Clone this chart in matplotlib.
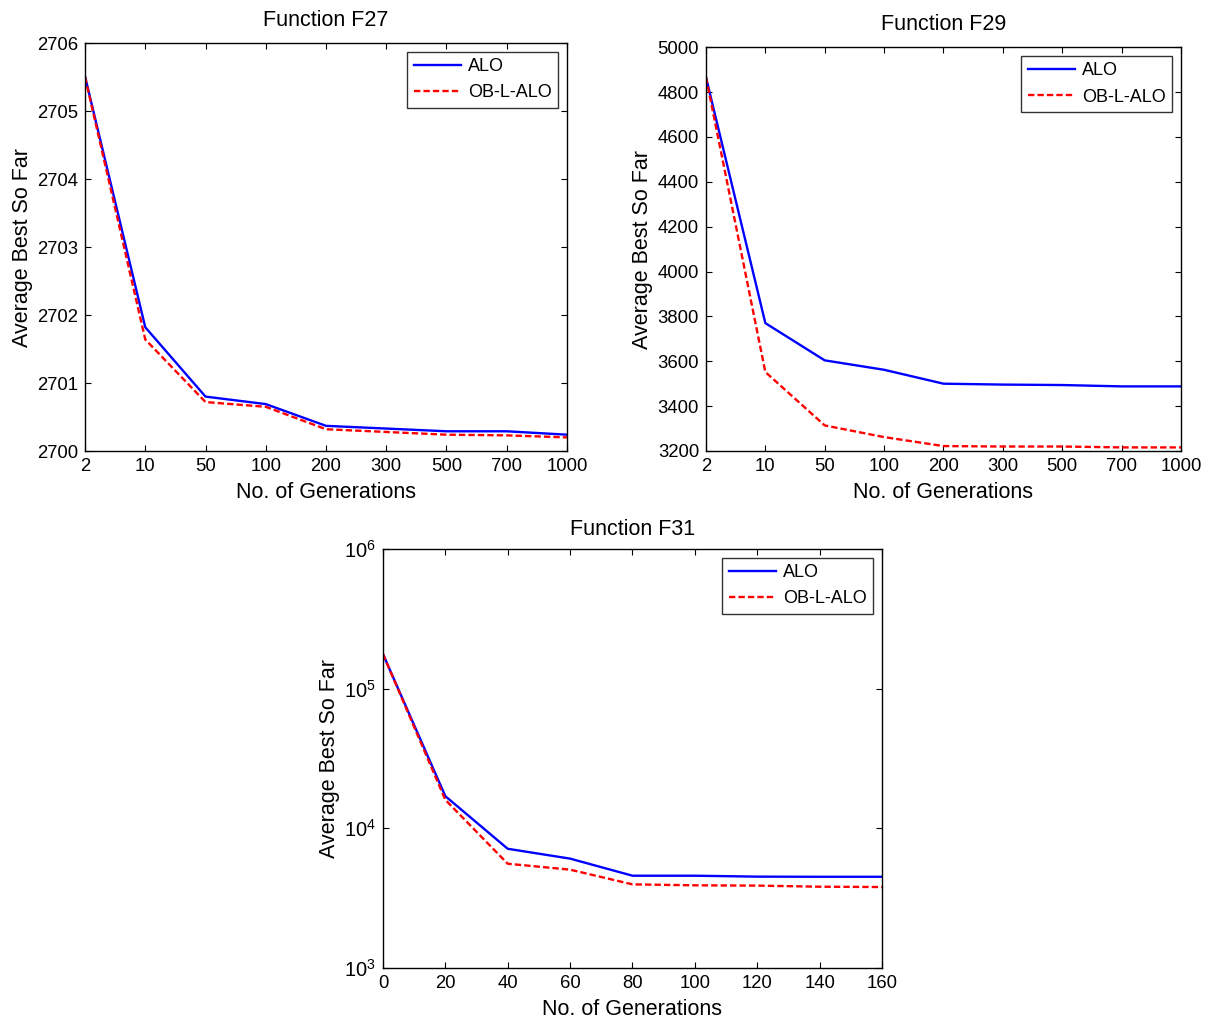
import numpy as np
import matplotlib
matplotlib.use("Agg")
import matplotlib.pyplot as plt
from matplotlib.ticker import LogLocator, NullLocator, LogFormatterSciNotation

plt.rcParams["font.family"] = ["Liberation Sans", "DejaVu Sans"]
plt.rcParams["mathtext.default"] = "regular"

# Generation checkpoints for the two top panels (equally spaced categories)
gens = ["2", "10", "50", "100", "200", "300", "500", "700", "1000"]

f27_alo = [2705.51, 2701.82, 2700.80, 2700.69, 2700.37, 2700.33, 2700.29, 2700.29, 2700.24]
f27_obl = [2705.50, 2701.64, 2700.72, 2700.65, 2700.32, 2700.28, 2700.24, 2700.23, 2700.20]

f29_alo = [4866, 3770, 3604, 3562, 3500, 3496, 3494, 3488, 3488]
f29_obl = [4866, 3552, 3314, 3262, 3222, 3220, 3220, 3216, 3216]

# F31 uses a numeric generation axis
f31_gen = [0, 20, 40, 60, 80, 100, 120, 140, 160]
f31_alo = [177000, 17000, 7140, 6070, 4580, 4580, 4510, 4500, 4500]
f31_obl = [177000, 16000, 5580, 5060, 3970, 3910, 3890, 3820, 3800]

BLUE = "#0000ff"
RED = "#ff0000"
LW = 1.7
DASH = (0, (2.7, 1.3))

fig = plt.figure(figsize=(12.13, 10.25), dpi=100)

def style(ax):
    ax.tick_params(direction="in", top=True, right=True, length=4, width=0.8,
                   labelsize=13.3, pad=5)
    for s in ax.spines.values():
        s.set_linewidth(1.0)
    ax.set_xlabel("No. of Generations", fontsize=15.5, labelpad=5)
    ax.set_ylabel("Average Best So Far", fontsize=15.5, labelpad=3)
    leg = ax.legend(loc="upper right", fontsize=13, frameon=True, fancybox=False,
                    edgecolor="black", handlelength=2.6, handletextpad=0.4,
                    borderpad=0.35, labelspacing=0.5, borderaxespad=0.5)
    leg.get_frame().set_linewidth(1.0)


# Function F27
ax1 = fig.add_axes([0.0701, 0.560, 0.3973, 0.398])
x = np.arange(len(gens))
ax1.plot(x, f27_alo, color=BLUE, lw=LW, label="ALO")
ax1.plot(x, f27_obl, color=RED, lw=LW, ls=DASH, label="OB-L-ALO")
ax1.set_xlim(0, len(gens) - 1)
ax1.set_xticks(x)
ax1.set_xticklabels(gens)
ax1.set_ylim(2700, 2706)
ax1.set_yticks(np.arange(2700, 2707, 1))
ax1.ticklabel_format(axis="y", useOffset=False, style="plain")
ax1.set_title("Function F27", fontsize=15.5, pad=12)
style(ax1)

# Function F29
ax2 = fig.add_axes([0.582, 0.560, 0.3916, 0.394])
ax2.plot(x, f29_alo, color=BLUE, lw=LW, label="ALO")
ax2.plot(x, f29_obl, color=RED, lw=LW, ls=DASH, label="OB-L-ALO")
ax2.set_xlim(0, len(gens) - 1)
ax2.set_xticks(x)
ax2.set_xticklabels(gens)
ax2.set_ylim(3200, 5000)
ax2.set_yticks(np.arange(3200, 5001, 200))
ax2.set_title("Function F29", fontsize=15.5, pad=12)
style(ax2)

# Function F31 (log scale)
ax3 = fig.add_axes([0.3157, 0.0556, 0.4114, 0.4088])
ax3.semilogy(f31_gen, f31_alo, color=BLUE, lw=LW, label="ALO")
ax3.semilogy(f31_gen, f31_obl, color=RED, lw=LW, ls=DASH, label="OB-L-ALO")
ax3.set_xlim(0, 160)
ax3.set_xticks(np.arange(0, 161, 20))
ax3.set_ylim(1e3, 1e6)
ax3.yaxis.set_major_locator(LogLocator(base=10, numticks=10))
ax3.yaxis.set_major_formatter(LogFormatterSciNotation())
ax3.yaxis.set_minor_locator(NullLocator())
ax3.set_title("Function F31", fontsize=15.5, pad=10)
style(ax3)
ax3.tick_params(axis="y", labelsize=14.5)

fig.savefig("out.png", dpi=100)
